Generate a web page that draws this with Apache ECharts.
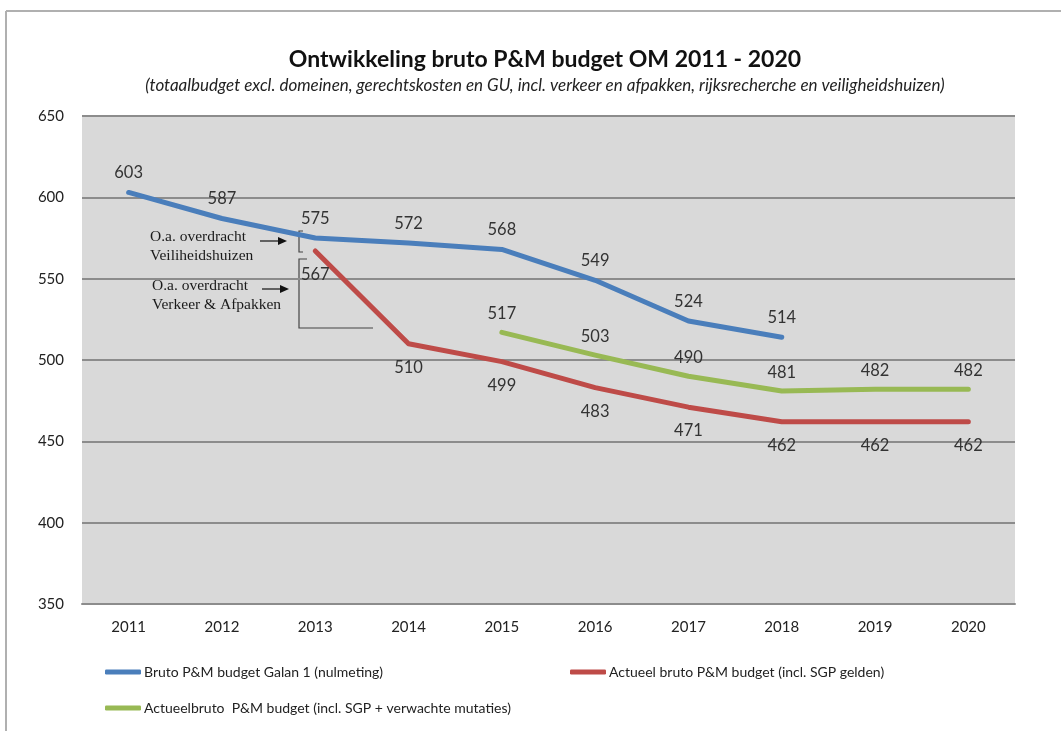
<!DOCTYPE html>
<html>
<head>
<meta charset="utf-8">
<script src="https://cdn.jsdelivr.net/npm/echarts@6/dist/echarts.min.js"></script>
<style>
  html, body { margin: 0; padding: 0; background: #fff; }
  #chart { width: 1061px; height: 731px; }
</style>
</head>
<body>
<div id="chart"></div>
<script>
// chart values
var years = ['2011', '2012', '2013', '2014', '2015', '2016', '2017', '2018', '2019', '2020'];
var galan = [603, 587, 575, 572, 568, 549, 524, 514, null, null];
var actueel = [null, null, 567, 510, 499, 483, 471, 462, 462, 462];
var actueelMutaties = [null, null, null, null, 517, 503, 490, 481, 482, 482];

var names = [
  'Bruto P&M budget Galan 1 (nulmeting)',
  'Actueel bruto P&M budget (incl. SGP gelden)',
  'Actueelbruto  P&M budget (incl. SGP + verwachte mutaties)'
];
var colors = ['#4a7ebb', '#be4b48', '#98b954'];

var font = 'Lato, "Open Sans", sans-serif';
var serif = '"Liberation Serif", "DejaVu Serif", serif';

function line(name, data, color, pos, dist) {
  return {
    name: name,
    type: 'line',
    data: data,
    // tiny symbol so that the labels are still drawn
    symbol: 'circle',
    symbolSize: 0.1,
    connectNulls: false,
    lineStyle: { color: color, width: 5, cap: 'round', join: 'round' },
    itemStyle: { color: color },
    label: {
      show: true,
      position: pos,
      distance: dist,
      color: '#333',
      fontSize: 16.5,
      fontFamily: font
    }
  };
}

function legendAt(name, left, top) {
  return {
    data: [name],
    left: left,
    top: top,
    icon: 'roundRect',
    itemWidth: 36,
    itemHeight: 5,
    itemGap: 4,
    textStyle: { color: '#222', fontSize: 14, fontFamily: font, padding: [0, 0, 0, -2] },
    selectedMode: false
  };
}

var chart = echarts.init(document.getElementById('chart'));

var option = {
  backgroundColor: '#fff',
  animation: false,
  title: {
    text: 'Ontwikkeling bruto P&M budget OM 2011 - 2020',
    subtext: '(totaalbudget excl. domeinen, gerechtskosten en GU, incl. verkeer en afpakken, rijksrecherche en veiligheidshuizen)',
    left: 540,
    textAlign: 'center',
    top: 43,
    itemGap: 6,
    textStyle: { fontFamily: font, fontSize: 23, fontWeight: 'bold', color: '#111' },
    subtextStyle: { fontFamily: font, fontSize: 17, fontStyle: 'italic', color: '#222' }
  },
  legend: [
    legendAt(names[0], 100, 660),
    legendAt(names[1], 565, 660),
    legendAt(names[2], 100, 696)
  ],
  grid: {
    left: 82,
    right: 46,
    top: 116,
    bottom: 127,
    show: true,
    backgroundColor: '#d9d9d9',
    borderWidth: 0
  },
  xAxis: {
    type: 'category',
    data: years,
    boundaryGap: true,
    axisLine: { show: true, lineStyle: { color: '#8c8c8c', width: 2 } },
    axisTick: { show: false },
    axisLabel: { color: '#222', fontSize: 15, fontFamily: font, margin: 16 }
  },
  yAxis: {
    type: 'value',
    min: 350,
    max: 650,
    interval: 50,
    axisLine: { show: false },
    axisTick: { show: false },
    axisLabel: { color: '#222', fontSize: 15, fontFamily: font, margin: 18 },
    splitLine: { lineStyle: { color: '#8c8c8c', width: 2 } }
  },
  series: [
    line(names[0], galan, colors[0], 'top', 11),
    line(names[1], actueel, colors[1], 'bottom', 15),
    line(names[2], actueelMutaties, colors[2], 'top', 10)
  ],
  graphic: [
    // frame of the picture
    { type: 'line', shape: { x1: 6, y1: 11, x2: 1061, y2: 11 }, style: { stroke: '#b0b0b0', lineWidth: 2 } },
    { type: 'line', shape: { x1: 6, y1: 11, x2: 6, y2: 731 }, style: { stroke: '#b0b0b0', lineWidth: 2 } },
    // annotation: veiligheidshuizen
    { type: 'text', left: 150, top: 227, style: { text: 'O.a. overdracht\nVeiliheidshuizen', font: '15.5px ' + serif, fill: '#1a1a1a', lineHeight: 19 } },
    { type: 'line', shape: { x1: 260, y1: 241, x2: 280, y2: 241 }, style: { stroke: '#111', lineWidth: 1.2 } },
    { type: 'polygon', shape: { points: [[287, 241], [278, 237], [278, 245]] }, style: { fill: '#111' } },
    { type: 'polyline', shape: { points: [[303, 231], [299, 231], [299, 252], [303, 252]] }, style: { stroke: '#444', lineWidth: 1.2, fill: null } },
    // annotation: verkeer & afpakken
    { type: 'text', left: 152, top: 276, style: { text: 'O.a. overdracht\nVerkeer & Afpakken', font: '15.5px ' + serif, fill: '#1a1a1a', lineHeight: 19 } },
    { type: 'line', shape: { x1: 262, y1: 289, x2: 282, y2: 289 }, style: { stroke: '#111', lineWidth: 1.2 } },
    { type: 'polygon', shape: { points: [[289, 289], [280, 285], [280, 293]] }, style: { fill: '#111' } },
    { type: 'polyline', shape: { points: [[307, 259], [299, 259], [299, 328], [373, 328]] }, style: { stroke: '#444', lineWidth: 1.2, fill: null } }
  ]
};

chart.setOption(option);
</script>
</body>
</html>
